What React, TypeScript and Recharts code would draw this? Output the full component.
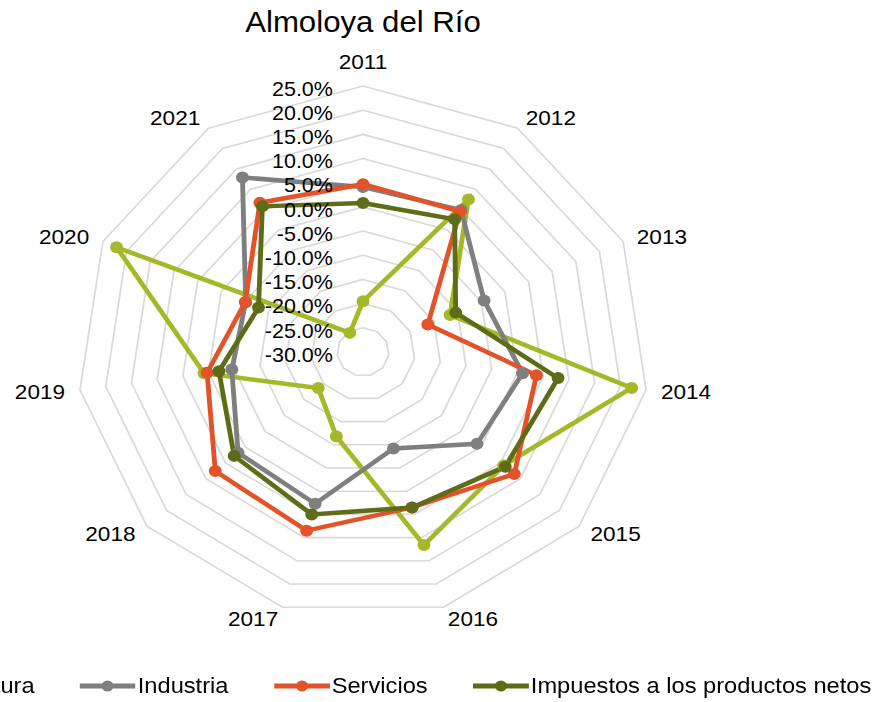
import { RadarChart, Radar, PolarGrid, PolarAngleAxis, PolarRadiusAxis } from 'recharts';

// años (categorías del eje angular)
const years = ['2011', '2012', '2013', '2014', '2015', '2016', '2017', '2018', '2019', '2020', '2021'];

// tasas de crecimiento (%)
const agricultura = [-19.5, 7.5, -11.6, 22.2, 5.8, 11.6, -11.8, -18.6, 0.9, 22.1, -25.3];
const industria = [4.1, 4.9, -4.4, 1.0, -1.0, -9.2, 2.7, 1.8, -4.5, -5.2, 12.9];
const servicios = [4.7, 4.5, -16.3, 3.7, 8.5, 3.5, 8.5, 7.6, 0.3, -5.1, 6.7];
const impuestos = [0.8, 2.6, -10.4, 7.9, 6.2, 3.5, 5.0, 2.8, -2.0, -7.9, 5.8];

const radiusTicks = [-30, -25, -20, -15, -10, -5, 0, 5, 10, 15, 20, 25];

const series = [
  { key: 'agricultura', name: 'Agricultura', color: '#A5B827' },
  { key: 'industria', name: 'Industria', color: '#7F7F7F' },
  { key: 'servicios', name: 'Servicios', color: '#E2532A' },
  { key: 'impuestos', name: 'Impuestos a los productos netos', color: '#5F6C17' },
];

const data = years.map((year, i) => ({
  year,
  agricultura: agricultura[i],
  industria: industria[i],
  servicios: servicios[i],
  impuestos: impuestos[i],
}));

// the original picture is a bit wider than tall, so the whole chart is stretched on x
const STRETCH = 1.075;
const W = 813;
const H = 702;
const CX = 337.7;
const CY = 352;
const R = 266;
const FONT = '"Liberation Sans", Arial, sans-serif';

const AngleTick = (props: any) => {
  const { x, y, payload } = props;
  const dx = x - CX;
  const dy = y - CY;
  const len = Math.hypot(dx, dy) || 1;
  const sin = dx / len;
  const cos = -dy / len;
  const vx = CX + sin * R;
  const vy = CY - cos * R;
  let anchor: 'start' | 'middle' | 'end' = 'middle';
  let tx = vx;
  let ty = vy - 24 * cos;
  if (Math.abs(sin) > 0.05) {
    anchor = sin > 0 ? 'start' : 'end';
    tx = vx + 14 * sin;
    ty = vy - 12 * cos;
  }
  return (
    <text x={tx} y={ty} textAnchor={anchor} dominantBaseline="central" fontSize={21} fontFamily={FONT} fill="#000">
      {payload.value}
    </text>
  );
};

const RadiusTick = (props: any) => {
  const { x, y, payload } = props;
  return (
    <text x={x - 28} y={y + 2.5} textAnchor="end" dominantBaseline="central" fontSize={20} fontFamily={FONT} fill="#000">
      {`${Number(payload.value).toFixed(1)}%`}
    </text>
  );
};

const makeDot = (color: string) => (p: any) => (
  <circle key={`${color}-${p.index}`} cx={p.cx} cy={p.cy} r={6} fill={color} stroke="none" />
);

export default function App() {
  return (
    <div
      style={{
        position: 'absolute',
        left: 0,
        top: 0,
        width: W,
        height: H,
        transform: `scaleX(${STRETCH})`,
        transformOrigin: '0 0',
        fontFamily: FONT,
        background: '#fff',
        overflow: 'visible',
      }}
    >
      <RadarChart
        width={W}
        height={H}
        data={data}
        cx={CX}
        cy={CY}
        outerRadius={R}
        margin={{ top: 0, right: 0, bottom: 0, left: 0 }}
      >
        <PolarGrid gridType="polygon" radialLines={false} stroke="#D9D9D9" strokeWidth={1.6} />
        <PolarAngleAxis dataKey="year" axisLine={false} tickLine={false} tick={<AngleTick />} />
        {series.map((s) => (
          <Radar
            key={s.key}
            name={s.name}
            dataKey={s.key}
            stroke={s.color}
            strokeWidth={4.5}
            fill="none"
            fillOpacity={0}
            dot={makeDot(s.color)}
            isAnimationActive={false}
          />
        ))}
        <PolarRadiusAxis
          angle={90}
          domain={[-30, 25]}
          ticks={radiusTicks as any}
          tickCount={12}
          axisLine={false}
          tickLine={false}
          tick={<RadiusTick />}
        />
      </RadarChart>

      <div
        style={{
          position: 'absolute',
          left: 0,
          top: 0,
          width: W,
          fontSize: 29,
          lineHeight: '32px',
          paddingTop: 7,
          color: '#000',
        }}
      >
        <span style={{ position: 'absolute', left: CX, top: 6, transform: 'translateX(-50%)', whiteSpace: 'nowrap' }}>
          Almoloya del Río
        </span>
      </div>

      <div
        style={{
          position: 'absolute',
          left: -127,
          top: 673,
          display: 'flex',
          alignItems: 'center',
          whiteSpace: 'nowrap',
          fontSize: 22,
          lineHeight: '26px',
          color: '#000',
        }}
      >
        {series.map((s) => (
          <div key={s.key} style={{ display: 'flex', alignItems: 'center', marginRight: 42 }}>
            <svg width={52} height={14} style={{ display: 'block' }}>
              <line x1={0} y1={7} x2={52} y2={7} stroke={s.color} strokeWidth={5} />
              <circle cx={26} cy={7} r={5.5} fill={s.color} />
            </svg>
            <span style={{ marginLeft: 2 }}>{s.name}</span>
          </div>
        ))}
      </div>
    </div>
  );
}
